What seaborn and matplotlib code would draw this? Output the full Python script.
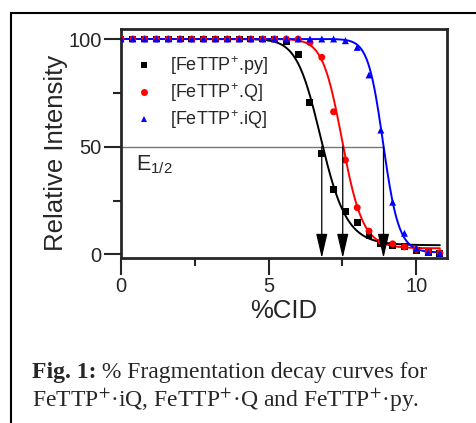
import numpy as np
import pandas as pd
import seaborn as sns
import matplotlib.pyplot as plt
from matplotlib.patches import Rectangle

# measured points (%CID step 0.4)
cid = [round(0.4 * i, 1) for i in range(28)]
py_vals = [100] * 14 + [99.0, 92.6, 70.6, 47.0, 30.1, 19.7, 14.6, 8.9, 5.0, 4.2, 3.5, 2.0, 1.0, 0.5]
q_vals = [100] * 16 + [98.3, 91.5, 66.2, 43.8, 21.7, 10.8, 6.0, 4.9, 3.5, 2.3, 1.2, 0.7]
iq_vals = [100] * 19 + [99.2, 96.1, 83.3, 57.7, 24.2, 9.8, 2.8, 0.9, 0.5]

labels = ['[FeTTP$^{+}$.py]', '[FeTTP$^{+}$.Q]', '[FeTTP$^{+}$.iQ]']
colors = ['black', 'red', 'blue']
markers = ['s', 'o', '^']

# dose-response fit parameters: E1/2, Hill slope, bottom
e_half = [6.80, 7.51, 8.89]
hill_p = [16, 22, 34]
bottom = [4.2, 2.8, 0.8]

sns.set_style('ticks')
plt.rcParams['font.family'] = ['Liberation Sans', 'DejaVu Sans']
plt.rcParams['mathtext.fontset'] = 'custom'
plt.rcParams['mathtext.rm'] = 'Liberation Sans'
plt.rcParams['mathtext.it'] = 'Liberation Sans:italic'
plt.rcParams['mathtext.bf'] = 'Liberation Sans:bold'

pts = pd.DataFrame({
    'cid': cid * 3,
    'intensity': py_vals + q_vals + iq_vals,
    'complex': [labels[0]] * 28 + [labels[1]] * 28 + [labels[2]] * 28,
})

xs = np.linspace(0, 10.8, 400)
fit_rows = []
for lab, x0, p, b in zip(labels, e_half, hill_p, bottom):
    ys = b + (100 - b) / (1 + (xs / x0) ** p)
    fit_rows.append(pd.DataFrame({'cid': xs, 'intensity': ys, 'complex': lab}))
fits = pd.concat(fit_rows)

fig = plt.figure(figsize=(4.76, 4.23), dpi=100)
ax = fig.add_axes([0.2542, 0.390, 0.6842, 0.5407])

sns.lineplot(data=fits, x='cid', y='intensity', hue='complex', palette=colors,
             linewidth=1.4, legend=False, ax=ax, sort=False)
sns.scatterplot(data=pts, x='cid', y='intensity', hue='complex', style='complex',
                palette=colors, markers=markers, s=25, linewidth=0, ax=ax, zorder=3)

# E1/2 guide lines
ax.plot([0, e_half[2]], [50, 50], color='#777777', lw=1, zorder=1)
for x0 in e_half:
    ax.annotate('', xy=(x0, -1.7), xytext=(x0, 50),
                arrowprops=dict(arrowstyle='-|>,head_length=15,head_width=3.5',
                                mutation_scale=1, color='black', lw=0.9,
                                shrinkA=0, shrinkB=0), zorder=5)
ax.text(0.5, 39.2, r'E$_{\mathrm{1/2}}$', fontsize=15.5, va='baseline')

ax.set_xlim(0, 11.03)
ax.set_ylim(-1.7, 104.5)
ax.set_xticks([0, 5, 10])
ax.set_xticks([2.5, 7.5], minor=True)
ax.set_yticks([0, 50, 100])
ax.set_yticks([25, 75], minor=True)
ax.tick_params(which='major', direction='out', length=12, width=1.5, labelsize=14.5, pad=2)
ax.tick_params(which='minor', direction='out', length=6, width=1.5)
for s in ax.spines.values():
    s.set_linewidth(2)
ax.set_xlabel('%CID', fontsize=18.5, labelpad=2)
ax.set_ylabel('Relative Intensity', fontsize=18.5)
ax.yaxis.set_label_coords(-0.163, 0.459)

ax.legend(loc='upper left', bbox_to_anchor=(0.008, 0.921), frameon=False, fontsize=13,
          handletextpad=0.69, labelspacing=0.24, borderaxespad=0, handlelength=1.5)

# caption and frame
fig.patches.append(Rectangle((11 / 476, -0.2), 1.2, 0.2 + 1 - 13 / 423, transform=fig.transFigure,
                             fill=False, edgecolor='black', lw=1.5))
t1 = fig.text(32 / 476, 1 - 378 / 423, 'Fig. 1:', family='Liberation Serif', weight='bold',
              fontsize=17, va='baseline')
ax.annotate(' % Fragmentation decay curves for', xy=(1, 0), xycoords=t1, va='bottom',
            family='Liberation Serif', fontsize=17, annotation_clip=False)
fig.text(32 / 476, 1 - 406.7 / 423, 'FeTTP$^{+}$·iQ, FeTTP$^{+}$·Q and FeTTP$^{+}$·py.',
         family='Liberation Serif', fontsize=17, va='baseline', math_fontfamily='stix')

fig.savefig('out.png', dpi=100)
